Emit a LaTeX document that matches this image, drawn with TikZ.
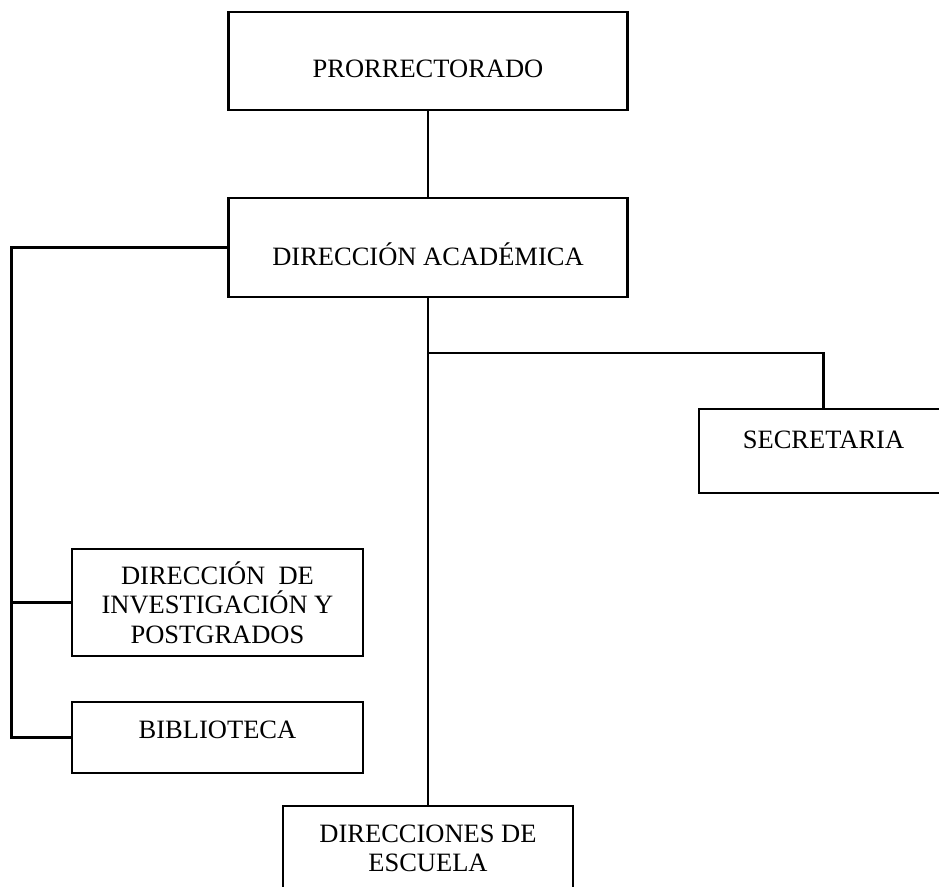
\documentclass[tikz,border=0pt]{standalone}
\usepackage{fontspec}
\setmainfont{Liberation Serif}
\usetikzlibrary{positioning}

\begin{document}
\begin{tikzpicture}[x=1pt,y=-1pt,line width=2.1pt,
 ubox/.style={draw,inner sep=0pt,align=center,
   font=\fontsize{26.5}{29.3}\selectfont}]
 \useasboundingbox (0,0) rectangle (939,886);
 \node[ubox,minimum width=399,minimum height=98,text height=32,text depth=0] (pr) at (428,61) {PRORRECTORADO};
 \node[ubox,minimum width=399,minimum height=99,text height=35,text depth=0] (da) at (428,247.5) {DIRECCIÓN ACADÉMICA};
 \node[ubox,minimum width=249,minimum height=84,text height=10,text depth=16] (sec) at (823.5,451) {SECRETARIA};
 \node[ubox,minimum width=291,minimum height=107] (dip) at (217.5,602.5) {DIRECCIÓN\ \ DE\\INVESTIGACIÓN Y\\POSTGRADOS};
 \node[ubox,minimum width=291,minimum height=71,text height=17,text depth=16] (bib) at (217.5,737.5) {BIBLIOTECA};
 \node[ubox,minimum width=290,minimum height=84,anchor=north] (des) at (428,805) {DIRECCIONES DE\\ESCUELA};
 \coordinate (j) at (428,353);
 \draw (pr) -- (da);
 \draw (da.south) -- (des.north);
 \draw (j) -| (sec.north);
 \draw (da.west) -- ++(-216,0) |- (bib.west);
 \draw (dip.west) -- ++(-60,0);
\end{tikzpicture}
\end{document}
